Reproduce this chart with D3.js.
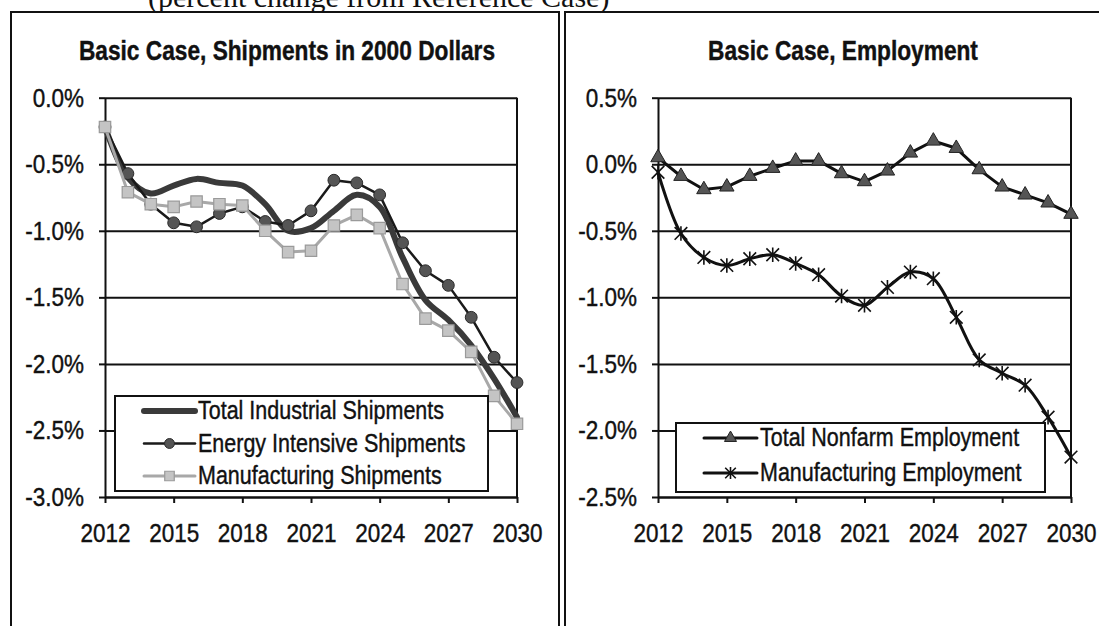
<!DOCTYPE html>
<html>
<head>
<meta charset="utf-8">
<script src="https://cdn.jsdelivr.net/npm/d3@7"></script>
<style>
  body { margin: 0; background: #fff; }
  svg { display: block; }
</style>
</head>
<body>
<svg id="chart" width="1099" height="626"></svg>
<script>
// ---- data (percent change from Reference Case) ----
const years = [2012, 2013, 2014, 2015, 2016, 2017, 2018, 2019, 2020, 2021,
               2022, 2023, 2024, 2025, 2026, 2027, 2028, 2029, 2030];
const yearTicks = [2012, 2015, 2018, 2021, 2024, 2027, 2030];

const totalIndustrial = [-0.22, -0.60, -0.72, -0.66, -0.61, -0.64, -0.66, -0.80, -1.00, -0.98,
                         -0.85, -0.73, -0.82, -1.20, -1.52, -1.67, -1.86, -2.11, -2.40];
const energyIntensive = [-0.22, -0.57, -0.80, -0.94, -0.97, -0.87, -0.82, -0.93, -0.96, -0.85,
                         -0.62, -0.64, -0.73, -1.09, -1.30, -1.41, -1.65, -1.95, -2.14];
const mfgShipments    = [-0.22, -0.71, -0.80, -0.82, -0.78, -0.80, -0.81, -1.00, -1.16, -1.15,
                         -0.96, -0.88, -0.98, -1.40, -1.66, -1.75, -1.91, -2.24, -2.45];
const nonfarmEmployment = [0.05, -0.09, -0.19, -0.17, -0.09, -0.03, 0.025, 0.025, -0.07, -0.13,
                           -0.05, 0.085, 0.175, 0.12, -0.04, -0.17, -0.23, -0.29, -0.375];
const mfgEmployment   = [-0.06, -0.52, -0.70, -0.76, -0.71, -0.68, -0.745, -0.83, -0.99, -1.06,
                         -0.925, -0.81, -0.86, -1.15, -1.47, -1.57, -1.66, -1.90, -2.20];

const shipmentTicks = [0, -0.5, -1.0, -1.5, -2.0, -2.5, -3.0];
const employmentTicks = [0.5, 0, -0.5, -1.0, -1.5, -2.0, -2.5];

const shipmentLabels = ["Total Industrial Shipments", "Energy Intensive Shipments", "Manufacturing Shipments"];
const employmentLabels = ["Total Nonfarm Employment", "Manufacturing Employment"];

// ---- drawing ----
const svg = d3.select("#chart");
const SANS = "'Liberation Sans', Arial, sans-serif";
const INK = "#111";
const K = 1.18;             // slight vertical stretch of lettering
const fmtPct = d => d.toFixed(1) + "%";

function inked(sel) {
  return sel.attr("fill", INK).attr("stroke", INK).attr("stroke-width", 0.35);
}

function stretchedText(parent, x, y, str) {
  return inked(parent.append("text")
    .attr("transform", `translate(${x},${y}) scale(1,${K})`)
    .attr("font-family", SANS)
    .text(str));
}

// asterisk marker: an X crossed by a vertical bar
const asterisk = {
  draw(ctx, size) {
    const r = Math.sqrt(size) / 2;
    ctx.moveTo(-r, -r); ctx.lineTo(r, r);
    ctx.moveTo(-r, r);  ctx.lineTo(r, -r);
    ctx.moveTo(0, -r * 1.15); ctx.lineTo(0, r * 1.15);
  }
};

// page heading (runs off the top edge)
svg.append("text")
  .attr("x", 148).attr("y", 7)
  .attr("font-family", "'Liberation Serif', 'Times New Roman', serif")
  .attr("font-size", 30)
  .attr("fill", INK)
  .text("(percent change from Reference Case)");

// panel frames
const frame = svg.append("g").attr("stroke", INK).attr("stroke-width", 2).attr("fill", "none");
frame.append("path").attr("d", "M11,626V12H559V626");
frame.append("path").attr("d", "M565,626V12H1100");

function drawChart(c) {
  const g = svg.append("g");
  const x = d3.scaleLinear().domain([years[0], years[years.length - 1]]).range([c.x0, c.x1]);
  const y = d3.scaleLinear().domain(c.domain).range([c.yb, c.yt]);

  // title
  stretchedText(g, c.titleX, 60, c.title)
    .attr("font-size", 22.7).attr("font-weight", "bold").attr("text-anchor", "middle");

  // horizontal gridlines
  g.append("g")
    .attr("transform", `translate(${c.x0},0)`)
    .call(d3.axisLeft(y).tickValues(c.ticks).tickSize(-(c.x1 - c.x0)).tickFormat(""))
    .call(a => a.select(".domain").remove())
    .selectAll("line").attr("stroke", INK).attr("stroke-width", 2);

  // right edge of plot area
  g.append("line")
    .attr("x1", c.x1).attr("x2", c.x1).attr("y1", c.yt).attr("y2", c.yb)
    .attr("stroke", INK).attr("stroke-width", 2);

  // y axis
  const ya = g.append("g")
    .attr("transform", `translate(${c.x0},0)`)
    .call(d3.axisLeft(y).tickValues(c.ticks).tickSize(6).tickSizeOuter(0).tickPadding(15).tickFormat(fmtPct));
  ya.select(".domain").attr("stroke", INK).attr("stroke-width", 2);
  ya.selectAll(".tick line").attr("stroke", INK).attr("stroke-width", 2);
  inked(ya.selectAll("text"))
    .attr("font-family", SANS).attr("font-size", 22.5)
    .attr("transform", `scale(1,${K})`);

  // x axis
  const xa = g.append("g")
    .attr("transform", `translate(0,${c.yb})`)
    .call(d3.axisBottom(x).tickValues(yearTicks).tickSize(6).tickSizeOuter(0).tickFormat(d3.format("d")));
  xa.select(".domain").attr("stroke", INK).attr("stroke-width", 2);
  xa.selectAll(".tick line").attr("stroke", INK).attr("stroke-width", 2);
  inked(xa.selectAll("text"))
    .attr("font-family", SANS).attr("font-size", 22.5)
    .attr("y", 0).attr("dy", 0)
    .attr("transform", `translate(0,45) scale(1,${K})`);

  // series
  c.series.forEach(s => {
    const line = d3.line()
      .x((d, i) => x(years[i]))
      .y(d => y(d))
      .curve(s.smooth ? d3.curveCatmullRom.alpha(0.5) : d3.curveLinear);
    g.append("path")
      .datum(s.values)
      .attr("d", line)
      .attr("fill", "none")
      .attr("stroke", s.stroke)
      .attr("stroke-width", s.width)
      .attr("stroke-linejoin", "round")
      .attr("stroke-linecap", "round");
    if (s.symbol) {
      g.append("g").selectAll("path")
        .data(s.values)
        .join("path")
        .attr("transform", (d, i) => `translate(${x(years[i])},${y(d)})`)
        .attr("d", d3.symbol(s.symbol, s.size))
        .attr("fill", s.fill)
        .attr("stroke", s.mstroke)
        .attr("stroke-width", s.mwidth);
    }
  });

  // legend
  const lg = g.append("g");
  lg.append("rect")
    .attr("x", c.legend.x).attr("y", c.legend.y)
    .attr("width", c.legend.w).attr("height", c.legend.h)
    .attr("fill", "#fff").attr("stroke", INK).attr("stroke-width", 2);
  c.series.forEach((s, i) => {
    const cy = c.legend.y + c.legend.first + i * c.legend.step;
    const lx0 = c.legend.x + c.legend.sx0, lx1 = c.legend.x + c.legend.sx1;
    lg.append("line")
      .attr("x1", lx0).attr("x2", lx1).attr("y1", cy).attr("y2", cy)
      .attr("stroke", s.stroke).attr("stroke-width", s.width)
      .attr("stroke-linecap", "round");
    if (s.symbol) {
      lg.append("path")
        .attr("transform", `translate(${(lx0 + lx1) / 2},${cy})`)
        .attr("d", d3.symbol(s.symbol, s.size * 0.7))
        .attr("fill", s.fill).attr("stroke", s.mstroke).attr("stroke-width", s.mwidth);
    }
    stretchedText(lg, lx1 + 3, cy + 8, c.labels[i]).attr("font-size", 21.5);
  });
}

drawChart({
  title: "Basic Case, Shipments in 2000 Dollars",
  titleX: 287,
  x0: 105, x1: 517, yt: 97.7, yb: 497,
  domain: [-3.0, 0],
  ticks: shipmentTicks,
  labels: shipmentLabels,
  legend: { x: 115, y: 396, w: 373, h: 95, first: 15, step: 32.5, sx0: 29, sx1: 80 },
  series: [
    { values: totalIndustrial, stroke: "#3a3a3a", width: 6, smooth: true },
    { values: energyIntensive, stroke: "#1a1a1a", width: 2.5,
      symbol: d3.symbolCircle, size: 110, fill: "#555", mstroke: "#2a2a2a", mwidth: 1 },
    { values: mfgShipments, stroke: "#a8a8a8", width: 3,
      symbol: d3.symbolSquare, size: 130, fill: "#c4c4c4", mstroke: "#9a9a9a", mwidth: 1.2 }
  ]
});

drawChart({
  title: "Basic Case, Employment",
  titleX: 843,
  x0: 658, x1: 1071, yt: 97.7, yb: 497,
  domain: [-2.5, 0.5],
  ticks: employmentTicks,
  labels: employmentLabels,
  legend: { x: 676, y: 423, w: 369, h: 69, first: 15, step: 35, sx0: 28, sx1: 81 },
  series: [
    { values: nonfarmEmployment, stroke: "#111", width: 3,
      symbol: d3.symbolTriangle, size: 90, fill: "#555", mstroke: "#222", mwidth: 1 },
    { values: mfgEmployment, stroke: "#111", width: 3, smooth: true,
      symbol: asterisk, size: 160, fill: "none", mstroke: "#111", mwidth: 1.6 }
  ]
});
</script>
</body>
</html>
